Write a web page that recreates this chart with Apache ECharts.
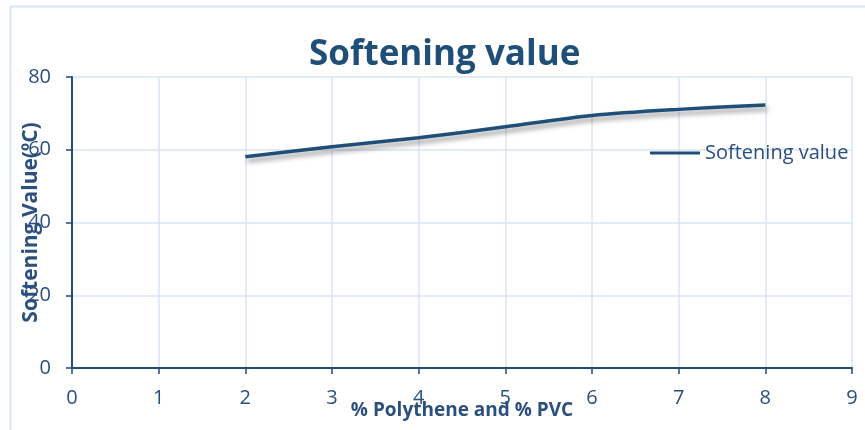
<!DOCTYPE html>
<html>
<head>
<meta charset="utf-8">
<script src="https://cdn.jsdelivr.net/npm/echarts@6/dist/echarts.min.js"></script>
<style>
html,body{margin:0;padding:0;background:#fff;}
#softening{width:865px;height:430px;}
</style>
</head>
<body>
<div id="softening"></div>
<script>
// softening value vs % polythene and % PVC
var xTicks = [0,1,2,3,4,5,6,7,8,9];
var mixPercent = [2,3,4,5,6,7,8];
var softValue = [58.1,60.8,63.3,66.3,69.4,71.1,72.3];
var seriesName = 'Softening value';

var blue = '#1f4e79';
var txt = '#2b4f7e';
var gridC = '#d9e5f4';

var pts = [];
for(var i=0;i<mixPercent.length;i++){
    pts.push([mixPercent[i], softValue[i]]);
}

var myChart = echarts.init(document.getElementById('softening'));
var option = {
    animation: false,
    title: {
        text: 'Softening value',
        left: 304,
        top: 33,
        textStyle: {color: blue, fontSize: 35, fontWeight: 'bold', fontFamily: 'Open Sans'}
    },
    graphic: [
        {type:'line', shape:{x1:10.5,y1:6,x2:10.5,y2:430}, style:{stroke:gridC, lineWidth:2}},
        {type:'line', shape:{x1:10,y1:6.5,x2:865,y2:6.5}, style:{stroke:gridC, lineWidth:2}}
    ],
    legend: {
        data: [seriesName],
        left: 645,
        top: 138,
        icon: 'rect',
        itemWidth: 50,
        itemHeight: 3,
        textStyle: {color: txt, fontSize: 20, fontFamily: 'Open Sans', padding: [0,0,0,0]}
    },
    grid: {left: 72, right: 13, top: 77, bottom: 62, containLabel: false, outerBoundsMode: 'none'},
    xAxis: {
        type: 'value',
        min: 0, max: 9, interval: 1,
        name: '% Polythene and % PVC',
        nameLocation: 'middle',
        nameGap: 33,
        nameMoveOverlap: false,
        nameTextStyle: {color: txt, fontSize: 19, fontWeight: 'bold', fontFamily: 'Open Sans'},
        axisLine: {lineStyle: {color: blue, width: 2}},
        axisTick: {show: true, length: 6, lineStyle: {color: blue, width: 1.5}},
        axisLabel: {color: txt, fontSize: 20, fontFamily: 'Open Sans', margin: 20,
            formatter: function(v){ return xTicks.indexOf(v) >= 0 ? String(v) : ''; }},
        splitLine: {show: true, lineStyle: {color: gridC, width: 1.5}}
    },
    yAxis: {
        type: 'value',
        min: 0, max: 80, interval: 20,
        name: 'Softening Value(ºC)',
        nameLocation: 'middle',
        nameGap: 30,
        nameMoveOverlap: false,
        nameTextStyle: {color: txt, fontSize: 21, fontWeight: 'bold', fontFamily: 'Open Sans'},
        axisLine: {show: true, lineStyle: {color: blue, width: 2}},
        axisTick: {show: true, length: 6, lineStyle: {color: blue, width: 1.5}},
        axisLabel: {color: txt, fontSize: 20, fontFamily: 'Open Sans', margin: 21},
        splitLine: {show: true, lineStyle: {color: gridC, width: 1.5}}
    },
    series: [
        {
            name: seriesName,
            type: 'line',
            data: pts,
            smooth: 0.3,
            showSymbol: false,
            symbol: 'none',
            lineStyle: {
                color: blue, width: 3.5,
                shadowColor: 'rgba(0,0,0,0.4)', shadowBlur: 5, shadowOffsetX: 2, shadowOffsetY: 4
            },
            itemStyle: {color: blue}
        }
    ]
};
myChart.setOption(option);
</script>
</body>
</html>
